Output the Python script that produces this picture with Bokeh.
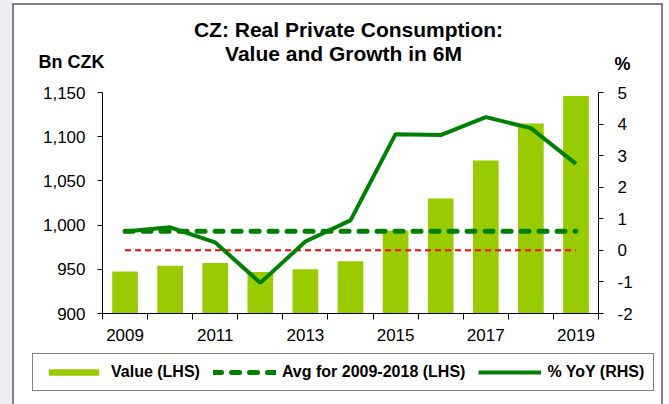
from bokeh.plotting import figure
from bokeh.layouts import column
from bokeh.models import (Range1d, LinearAxis, FixedTicker, NumeralTickFormatter,
                          PrintfTickFormatter, Legend, LegendItem, Label,
                          ColumnDataSource)
from bokeh.embed import file_html
from bokeh.resources import INLINE

# ---- data ----
years = [2009, 2010, 2011, 2012, 2013, 2014, 2015, 2016, 2017, 2018, 2019]
value_bn_czk = [947.5, 954, 957, 947, 950, 959, 994, 1030, 1073, 1115, 1146]
yoy_pct = [0.6, 0.73, 0.25, -1.03, 0.28, 0.95, 3.68, 3.65, 4.22, 3.87, 2.74]
avg_years = [2009, 2019]
avg_2009_2018 = [993, 993]
zero_years = [2009, 2019]
zero_pct = [0, 0]
x_label_years = [2009, 2011, 2013, 2015, 2017, 2019]
x_boundaries = [2008.5, 2009.5, 2010.5, 2011.5, 2012.5, 2013.5, 2014.5,
                2015.5, 2016.5, 2017.5, 2018.5, 2019.5]
lhs_ticks = [900, 950, 1000, 1050, 1100, 1150]
rhs_ticks = [-2, -1, 0, 1, 2, 3, 4, 5]
title_lines = ["CZ: Real Private Consumption:", "Value and Growth in 6M"]
lhs_unit = "Bn CZK"
rhs_unit = "%"
legend_labels = ["Value (LHS)", "Avg for 2009-2018 (LHS)", "% YoY (RHS)"]

FONT = "Liberation Sans"
BAR = "#99CC00"
GREEN = "#008000"
W = 669
H_HEAD, H_MAIN, H_FOOT = 80, 265, 59

src = ColumnDataSource(dict(year=years, value=value_bn_czk, yoy=yoy_pct))
avg_src = ColumnDataSource(dict(year=avg_years, avg=avg_2009_2018))


def blank(h):
    f = figure(width=W, height=h, output_backend="svg", toolbar_location=None,
               x_range=Range1d(0, W), y_range=Range1d(h, 0),
               x_axis_type=None, y_axis_type=None, min_border=0, title=None,
               frame_align=False)
    f.outline_line_color = None
    f.grid.visible = False
    f.background_fill_alpha = 0
    f.border_fill_alpha = 0
    return f


# ---- header: title and unit captions ----
head = blank(H_HEAD)
for txt, x, y in [(title_lines[0], 348, 29), (title_lines[1], 343, 53)]:
    head.add_layout(Label(x=x, y=y, text=txt, text_align="center",
                          text_baseline="middle", text_font=FONT,
                          text_font_style="bold", text_font_size="21px",
                          text_color="black"))
head.add_layout(Label(x=38, y=61, text=lhs_unit, text_align="left",
                      text_baseline="middle", text_font=FONT,
                      text_font_style="bold", text_font_size="18px",
                      text_color="black"))
head.add_layout(Label(x=614, y=63, text=rhs_unit, text_align="left",
                      text_baseline="middle", text_font=FONT,
                      text_font_style="bold", text_font_size="18px",
                      text_color="black"))

# ---- main chart ----
p = figure(width=W, height=H_MAIN, output_backend="svg", toolbar_location=None,
           x_range=Range1d(2008.5, 2019.5), y_range=Range1d(900, 1150),
           min_border_left=102, min_border_right=71, min_border_top=12,
           min_border_bottom=32, title=None, frame_align=False)
p.extra_y_ranges = {"pct": Range1d(-2, 5)}
p.outline_line_color = None
p.xgrid.visible = False
p.ygrid.visible = False
p.background_fill_color = "white"
p.border_fill_alpha = 0


def draw_series(f, yr=None):
    kw = {} if yr is None else {"y_range_name": yr}
    bars = f.vbar(x="year", top="value", bottom=900, width=0.57, source=src,
                  fill_color=BAR, line_color=None)
    avg = f.line(x="year", y="avg", source=avg_src, line_color=GREEN,
                 line_width=5, line_dash="8 10", line_cap="round")
    yoy = f.line(x="year", y="yoy", source=src, line_color=GREEN,
                 line_width=4, **kw)
    return bars, avg, yoy


p.vbar(x="year", top="value", bottom=900, width=0.57, source=src,
       fill_color=BAR, line_color=None)
p.line(x=zero_years, y=zero_pct, y_range_name="pct", line_color="red",
       line_width=2, line_dash="6 4")
p.line(x="year", y="avg", source=avg_src, line_color=GREEN, line_width=5,
       line_dash="8 10", line_cap="round")
p.line(x="year", y="yoy", source=src, y_range_name="pct",
       line_color=GREEN, line_width=4)

xa = p.xaxis[0]
xa.ticker = FixedTicker(ticks=x_label_years, minor_ticks=x_boundaries)
xa.major_tick_line_color = None
xa.major_tick_out = 0
xa.major_tick_in = 0
xa.minor_tick_out = 6
xa.minor_tick_in = 0
xa.minor_tick_line_color = "black"
xa.major_label_standoff = 9

ya = p.yaxis[0]
ya.ticker = FixedTicker(ticks=lhs_ticks)
ya.formatter = NumeralTickFormatter(format="0,0")
ya.major_tick_out = 5
ya.major_tick_in = 0
ya.minor_tick_line_color = None
ya.major_label_standoff = 12

ra = LinearAxis(y_range_name="pct", ticker=FixedTicker(ticks=rhs_ticks),
                formatter=PrintfTickFormatter(format="%d"))
ra.major_tick_out = 5
ra.major_tick_in = 0
ra.minor_tick_line_color = None
ra.major_label_standoff = 14
p.add_layout(ra, "right")

for ax in (xa, ya, ra):
    ax.major_label_text_font = FONT
    ax.major_label_text_font_size = "17px"
    ax.major_label_text_color = "black"
    ax.axis_line_color = "black"
    ax.axis_line_width = 1

# ---- footer: legend (proxy renderers share the data but lie outside this panel's ranges) ----
foot = blank(H_FOOT)
r_bar, r_avg, r_yoy = draw_series(foot)
legend = Legend(items=[LegendItem(label=legend_labels[0], renderers=[r_bar]),
                       LegendItem(label=legend_labels[1], renderers=[r_avg]),
                       LegendItem(label=legend_labels[2], renderers=[r_yoy])],
                orientation="horizontal", location=(32, 13))
legend.label_text_font = FONT
legend.label_text_font_style = "bold"
legend.label_text_font_size = "16px"
legend.label_text_color = "black"
legend.glyph_width = 63
legend.glyph_height = 8
legend.label_height = 14
legend.label_standoff = 6
legend.spacing = 13
legend.padding = 9
legend.margin = 0
legend.border_line_color = "black"
legend.border_line_width = 1
legend.background_fill_color = "white"
legend.background_fill_alpha = 1
foot.add_layout(legend, "center")

frame_css = ("linear-gradient(#808080, #808080) 12px 3px / 651px 2px no-repeat, "
             "linear-gradient(#808080, #808080) 12px 3px / 2px 100% no-repeat, "
             "linear-gradient(#808080, #808080) 661px 3px / 2px 100% no-repeat, "
             "linear-gradient(#EDEDF5, #EDEDF5) 0px 0px / 12px 100% no-repeat, "
             "white")
layout = column(head, p, foot, spacing=0, styles={"background": frame_css})
open("out.html", "w").write(file_html(layout, INLINE))
